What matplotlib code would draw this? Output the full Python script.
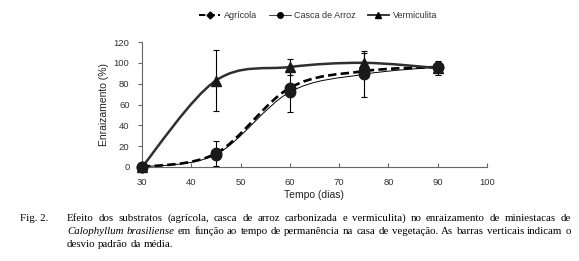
import numpy as np
import matplotlib
matplotlib.use('Agg')
import matplotlib.pyplot as plt
from matplotlib.path import Path
from matplotlib.patches import PathPatch
from matplotlib.lines import Line2D

# data
dias = [30, 45, 60, 75, 90]
agricola = [0, 13, 76, 92, 96]
agricola_err = [0, 12, 0, 0, 0]
casca = [0, 12, 72, 89, 96]
casca_err = [0, 0, 19, 22, 0]
vermiculita = [0, 83, 96, 100, 95]
vermiculita_err = [0, 29, 8, 9, 7]
series_names = ['Agrícola', 'Casca de Arroz', 'Vermiculita']

caption_lines = [
    [('Efeito dos substratos (agrícola, casca de arroz carbonizada e vermiculita) no  enraizamento de miniestacas de', 'normal')],
    [('Calophyllum brasiliense', 'italic'),
     ('em função ao tempo de permanência na casa de vegetação. As barras verticais indicam o', 'normal')],
    [('desvio padrão da média.', 'normal')],
]

W, H = 579, 261
fig = plt.figure(figsize=(W / 100, H / 100), dpi=100)
ax = fig.add_axes([142 / W, 1 - 167 / H, (487 - 142) / W, (167 - 42) / H])

sans = ['Liberation Sans', 'DejaVu Sans']
serif = ['Liberation Serif', 'DejaVu Serif']


# Excel-like smoothed line (bezier through the points)
def smooth_path(xs, ys):
    p = np.column_stack([xs, ys]).astype(float)
    n = len(p)
    verts = [p[0]]
    codes = [Path.MOVETO]
    for i in range(n - 1):
        p0 = p[i - 1] if i > 0 else p[i]
        p3 = p[i + 2] if i + 2 < n else p[i + 1]
        c1 = p[i] + (p[i + 1] - p0) / 6
        c2 = p[i + 1] - (p3 - p[i]) / 6
        verts += [c1, c2, p[i + 1]]
        codes += [Path.CURVE4] * 3
    return Path(verts, codes)


styles = [
    dict(color='black', lw=1.9, ls=(0, (3.2, 1.6)), marker='o', ms=7.5, lm='D', lms=3.5),
    dict(color='black', lw=0.7, ls='-', marker='o', ms=7.5, lm='o', lms=4),
    dict(color='#2f2f2f', lw=1.8, ls='-', marker='^', ms=7, lm='^', lms=4.5),
]
ys_all = [agricola, casca, vermiculita]
errs_all = [agricola_err, casca_err, vermiculita_err]

handles = []
for ys, errs, st, name in zip(ys_all, errs_all, styles, series_names):
    patch = PathPatch(smooth_path(dias, ys), fill=False, edgecolor=st['color'],
                      lw=st['lw'], ls=st['ls'], zorder=2)
    ax.add_patch(patch)
    ax.errorbar(dias, ys, yerr=errs, fmt='none', ecolor='black', elinewidth=0.8,
                capsize=2.2, capthick=0.8, zorder=3)
    ax.plot(dias, ys, ls='none', marker=st['marker'], ms=st['ms'], color='#1a1a1a',
            zorder=4, clip_on=False)
    handles.append(Line2D([], [], color=st['color'], lw=st['lw'] * 0.75, ls=st['ls'],
                          marker=st['lm'], ms=st['lms'],
                          markerfacecolor='black', markeredgecolor='black'))

ax.set_xlim(30, 100)
ax.set_ylim(0, 120)
ax.set_xticks(range(30, 101, 10))
ax.set_yticks(range(0, 121, 20))
for s in ['top', 'right']:
    ax.spines[s].set_visible(False)
for s in ['left', 'bottom']:
    ax.spines[s].set_color('#666666')
    ax.spines[s].set_linewidth(0.8)
ax.tick_params(axis='y', direction='out', length=3, width=0.8, color='#666666', pad=6)
ax.tick_params(axis='x', direction='in', length=3, width=0.8, color='#666666', pad=8)
for lab in ax.get_xticklabels() + ax.get_yticklabels():
    lab.set_family(sans)
    lab.set_fontsize(6.8)
    lab.set_color('#333333')
ax.set_xlabel('Tempo (dias)', family=sans, fontsize=7.5, labelpad=2, color='#222222')
ax.set_ylabel('Enraizamento (%)', family=sans, fontsize=7.5, labelpad=3, color='#222222')

fig.legend(handles, series_names, loc='center', bbox_to_anchor=(318 / W, 1 - 16 / H),
           ncol=3, frameon=False, prop={'family': sans, 'size': 6.5},
           handlelength=2.4, handletextpad=0.4, columnspacing=1.3, labelcolor='#333333')

# caption, justified word by word
renderer = fig.canvas.get_renderer()
fs = 7.8
base_y = [221, 234, 247]
fig.text(20 / W, 1 - base_y[0] / H, 'Fig. 2.', family=serif, fontsize=fs, va='baseline')
left, right = 67, 571
for li, (parts, yb) in enumerate(zip(caption_lines, base_y)):
    words = []
    for txt, style in parts:
        for w in txt.split():
            words.append((w, style))
    objs = []
    for w, style in words:
        t = fig.text(0, 0, w, family=serif, style=style, fontsize=fs, va='baseline')
        objs.append(t)
    widths = [t.get_window_extent(renderer).width for t in objs]
    t1 = fig.text(0, 0, 'a b', family=serif, fontsize=fs)
    t2 = fig.text(0, 0, 'ab', family=serif, fontsize=fs)
    space = t1.get_window_extent(renderer).width - t2.get_window_extent(renderer).width
    t1.remove()
    t2.remove()
    if li < len(caption_lines) - 1:
        gap = (right - left - sum(widths)) / (len(words) - 1)
    else:
        gap = space
    x = left
    for t, w in zip(objs, widths):
        t.set_position((x / W, 1 - yb / H))
        x += w + gap

fig.savefig('out.png', dpi=100, facecolor='white')
